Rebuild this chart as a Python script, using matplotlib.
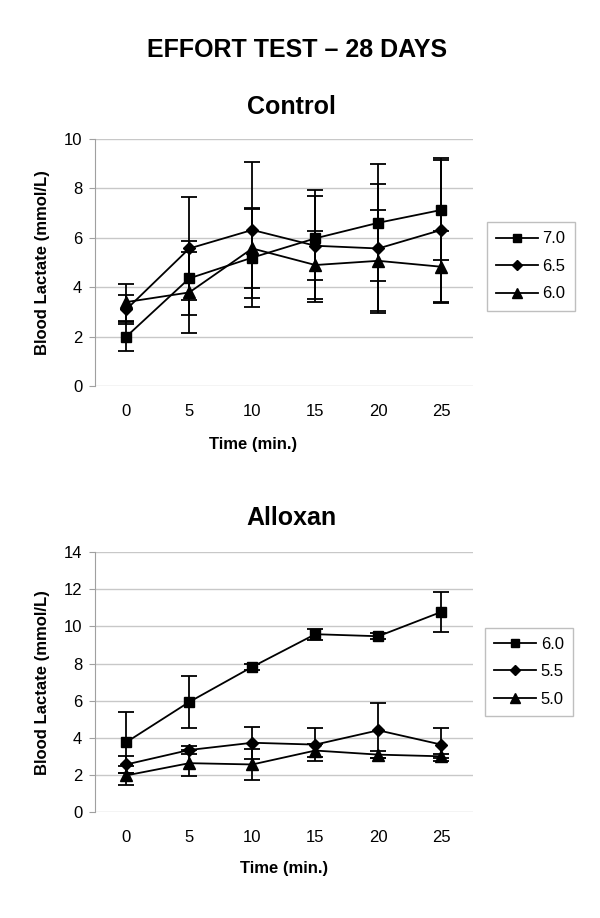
import numpy as np
import matplotlib
matplotlib.use("Agg")
import matplotlib.pyplot as plt
from matplotlib.lines import Line2D

plt.rcParams['font.family'] = ['Liberation Sans', 'DejaVu Sans']

# Time points (min.)
times = ['0', '5', '10', '15', '20', '25']

# Control group
control_labels = ['7.0', '6.5', '6.0']
control_70 = [2.0, 4.36, 5.2, 5.98, 6.61, 7.13]
control_70_err = [0.6, 1.5, 2.0, 1.7, 2.37, 2.02]
control_65 = [3.1, 5.57, 6.32, 5.68, 5.57, 6.32]
control_65_err = [0.6, 2.1, 2.76, 2.26, 2.6, 2.9]
control_60 = [3.4, 3.79, 5.57, 4.9, 5.07, 4.83]
control_60_err = [0.75, 1.63, 1.6, 1.38, 2.05, 1.45]

# Alloxan group
alloxan_labels = ['6.0', '5.5', '5.0']
alloxan_60 = [3.76, 5.93, 7.82, 9.58, 9.47, 10.78]
alloxan_60_err = [1.64, 1.4, 0.15, 0.3, 0.17, 1.1]
alloxan_55 = [2.56, 3.34, 3.73, 3.63, 4.4, 3.63]
alloxan_55_err = [0.45, 0.24, 0.87, 0.88, 1.48, 0.9]
alloxan_50 = [1.97, 2.63, 2.56, 3.31, 3.09, 3.0]
alloxan_50_err = [0.52, 0.7, 0.82, 0.35, 0.2, 0.1]

markers = ['s', 'D', '^']
msizes = [7, 6, 8]


def draw_panel(ax, series, errors, labels, ymax, xlabel_pos, legend_pos):
    x = np.arange(len(times))
    handles = []
    for vals, errs, m, ms, lab in zip(series, errors, markers, msizes, labels):
        ax.errorbar(x, vals, yerr=errs, color='black', marker=m, markersize=ms,
                    linewidth=1.3, elinewidth=1.3, capsize=5.5, capthick=1.3)
        handles.append(Line2D([], [], color='black', marker=m, markersize=ms - 1,
                              linewidth=1.3, label=lab))
    ax.set_xlim(-0.5, len(times) - 0.5)
    ax.set_ylim(0, ymax)
    ax.set_yticks(np.arange(0, ymax + 1, 2))
    ax.set_xticks(x)
    ax.set_xticklabels(times)
    ax.yaxis.grid(True, color='#c8c8c8', linewidth=1)
    ax.set_axisbelow(True)
    for s in ['top', 'right', 'bottom']:
        ax.spines[s].set_visible(False)
    ax.spines['left'].set_color('#a0a0a0')
    ax.tick_params(axis='y', length=4, color='#a0a0a0', labelsize=12, pad=5)
    ax.tick_params(axis='x', length=0, labelsize=12, pad=13)
    ax.set_xlabel('Time (min.)', fontsize=12, fontweight='bold')
    ax.xaxis.set_label_coords(*xlabel_pos)
    ax.set_ylabel('Blood Lactate (mmol/L)', fontsize=12, fontweight='bold')
    ax.yaxis.set_label_coords(-0.118, 0.5)
    leg = ax.legend(handles=handles, loc='center left', bbox_to_anchor=legend_pos,
                    fontsize=12, frameon=True, fancybox=False, edgecolor='#b0b0b0',
                    handlelength=2.5, handletextpad=0.3, labelspacing=0.75,
                    borderpad=0.55, borderaxespad=0)
    leg.get_frame().set_linewidth(1)


fig = plt.figure(figsize=(6, 9.18), dpi=100)
fig.text(0.495, 1 - 50 / 918, 'EFFORT TEST \u2013 28 DAYS', ha='center', va='center',
         fontsize=18, fontweight='bold')
fig.text(291 / 600, 1 - 107 / 918, 'Control', ha='center', va='center',
         fontsize=18, fontweight='bold')
fig.text(291 / 600, 1 - 518 / 918, 'Alloxan', ha='center', va='center',
         fontsize=18, fontweight='bold')

ax1 = fig.add_axes([0.158, 0.5795, 0.63, 0.269])
draw_panel(ax1, [control_70, control_65, control_60],
           [control_70_err, control_65_err, control_60_err],
           control_labels, 10, (0.418, -0.207), (1.037, 0.484))

ax2 = fig.add_axes([0.158, 0.1155, 0.63, 0.283])
draw_panel(ax2, [alloxan_60, alloxan_55, alloxan_50],
           [alloxan_60_err, alloxan_55_err, alloxan_50_err],
           alloxan_labels, 14, (0.5, -0.187), (1.032, 0.54))

fig.savefig('out.png', dpi=100)
